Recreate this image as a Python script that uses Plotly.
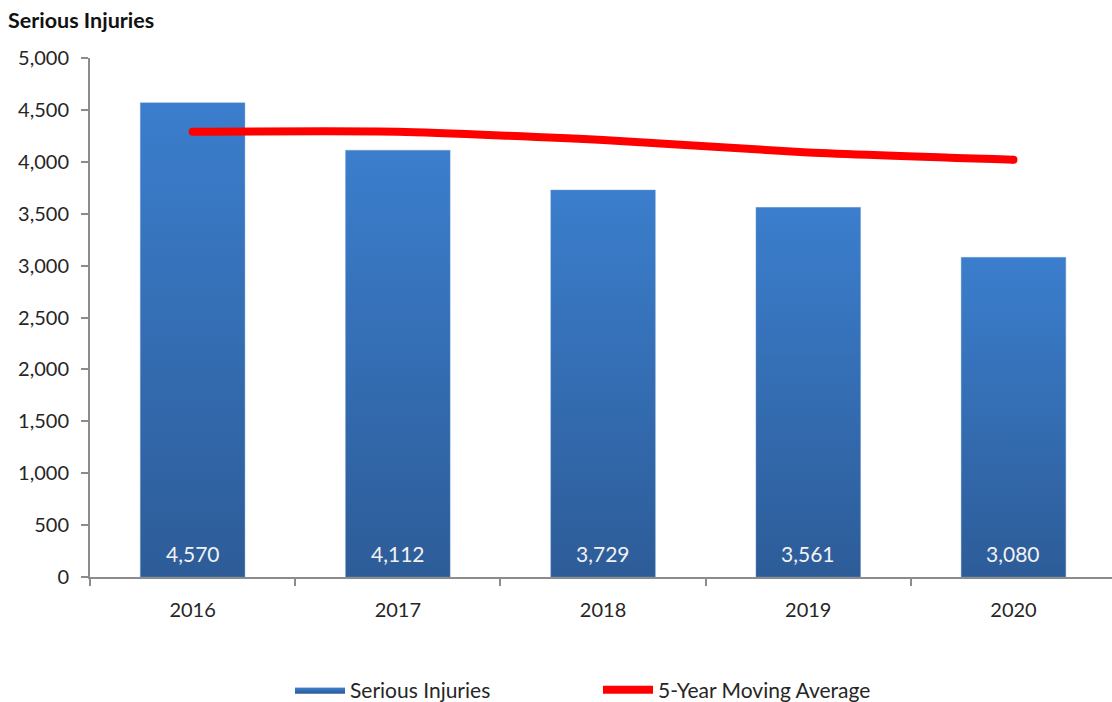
import plotly.graph_objects as go

# Annual serious injuries and the 5-year moving average
years = ["2016", "2017", "2018", "2019", "2020"]
injuries = [4570, 4112, 3729, 3561, 3080]
moving_avg = [4290, 4290, 4210, 4090, 4020]
y_ticks = [0, 500, 1000, 1500, 2000, 2500, 3000, 3500, 4000, 4500, 5000]

FONT = "Lato, Carlito, 'Open Sans', sans-serif"
AXIS_GREY = "#8c8c8c"
TEXT = "#262626"
BAR_WIDTH = 0.51

fig = go.Figure()

# Bars as filled shapes so each one carries its own vertical gradient
for i, (yr, v) in enumerate(zip(years, injuries)):
    x0, x1 = i - BAR_WIDTH / 2, i + BAR_WIDTH / 2
    fig.add_trace(go.Scatter(
        x=[x0, x1, x1, x0, x0],
        y=[0, 0, v, v, 0],
        mode="lines",
        fill="toself",
        line=dict(width=0.6, color="rgba(120,160,210,0.6)"),
        fillcolor="#3470b8",
        fillgradient=dict(type="vertical",
                          colorscale=[[0, "#2d5c98"], [1, "#3b7ecd"]]),
        name="Serious Injuries",
        legendgroup="inj",
        showlegend=(i == 0),
        hoverinfo="skip",
    ))

# Smoothed moving-average line
fig.add_trace(go.Scatter(
    x=list(range(len(years))),
    y=moving_avg,
    mode="lines",
    line=dict(color="#ff0000", width=8, shape="spline", smoothing=0.6),
    name="5-Year Moving Average",
))
# round caps at the two ends
fig.add_trace(go.Scatter(
    x=[0, len(years) - 1],
    y=[moving_avg[0], moving_avg[-1]],
    mode="markers",
    marker=dict(color="#ff0000", size=8),
    showlegend=False,
    hoverinfo="skip",
))

# Value labels at the foot of each bar
for i, v in enumerate(injuries):
    fig.add_annotation(
        x=i, y=0, yanchor="bottom", yshift=9,
        text=f"{v:,}", showarrow=False,
        font=dict(family=FONT, size=21, color="#f2f2f2"),
    )

fig.update_layout(
    width=1112, height=702,
    margin=dict(l=90, r=0, t=58, b=125),
    paper_bgcolor="white", plot_bgcolor="white",
    font=dict(family=FONT, color=TEXT),
    title=dict(
        text="<b>Serious Injuries</b>",
        xref="container", yref="container",
        x=8 / 1112, xanchor="left",
        y=1 - 20 / 702, yanchor="middle",
        font=dict(family=FONT, size=21.5, color="#111111"),
    ),
    xaxis=dict(
        range=[-0.5, 4.48],
        tickmode="array",
        tickvals=list(range(len(years))),
        ticktext=years,
        ticks="",
        ticklabelstandoff=14,
        tickfont=dict(size=20, color=TEXT),
        showline=True, linecolor=AXIS_GREY, linewidth=2,
        showgrid=False, zeroline=False,
        minor=dict(tickmode="array",
                   tickvals=[i - 0.5 for i in range(len(years) + 1)],
                   ticks="outside", ticklen=7, tickwidth=2, tickcolor=AXIS_GREY,
                   showgrid=False),
        fixedrange=True,
    ),
    yaxis=dict(
        range=[0, 5000],
        tickmode="array",
        tickvals=y_ticks,
        tickformat=",",
        ticks="outside", ticklen=7, tickwidth=2, tickcolor=AXIS_GREY,
        ticklabelstandoff=8,
        tickfont=dict(size=20, color=TEXT),
        showline=True, linecolor=AXIS_GREY, linewidth=2,
        showgrid=False, zeroline=False,
        fixedrange=True,
    ),
    legend=dict(
        orientation="h",
        xref="container", yref="container",
        x=290 / 1112, xanchor="left",
        y=1 - 690 / 702, yanchor="middle",
        entrywidth=243, entrywidthmode="pixels",
        font=dict(family=FONT, size=21, color=TEXT),
        itemwidth=50,
    ),
)

fig.write_html("out.html")
